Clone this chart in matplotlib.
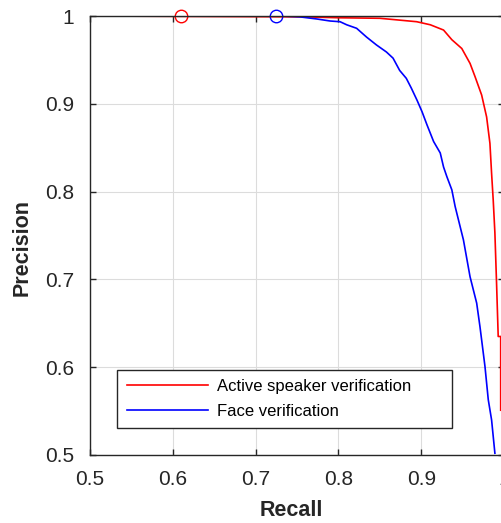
import matplotlib
matplotlib.use("Agg")
import matplotlib.pyplot as plt

# ---- data ----
asv_recall = [0.50, 0.76, 0.80, 0.85, 0.8945, 0.911, 0.927, 0.937, 0.949, 0.959,
              0.965, 0.973, 0.979, 0.983, 0.985, 0.987, 0.989, 0.991, 0.993, 0.996, 0.996]
asv_precision = [1.0, 0.999, 0.998, 0.9974, 0.9935, 0.990, 0.984, 0.973, 0.963, 0.946,
                 0.931, 0.910, 0.885, 0.855, 0.821, 0.790, 0.753, 0.696, 0.635, 0.635, 0.551]

face_recall = [0.50, 0.73, 0.7536, 0.774, 0.790, 0.802, 0.810, 0.822, 0.834, 0.846,
               0.858, 0.866, 0.874, 0.882, 0.888, 0.895, 0.901, 0.907, 0.915, 0.923,
               0.927, 0.931, 0.937, 0.941, 0.951, 0.959, 0.967, 0.971, 0.977, 0.981,
               0.985, 0.989]
face_precision = [1.0, 1.0, 0.999, 0.9966, 0.9943, 0.9935, 0.990, 0.986, 0.976, 0.967,
                  0.959, 0.952, 0.938, 0.929, 0.918, 0.904, 0.891, 0.876, 0.857, 0.844,
                  0.828, 0.817, 0.802, 0.783, 0.745, 0.703, 0.673, 0.646, 0.601, 0.563,
                  0.540, 0.502]

asv_marker = (0.61, 1.0)
face_marker = (0.725, 1.0)

series_labels = ["Active speaker verification", "Face verification"]
xticks = [0.5, 0.6, 0.7, 0.8, 0.9, 1.0]
xtick_labels = ["0.5", "0.6", "0.7", "0.8", "0.9", "1"]
yticks = [0.5, 0.6, 0.7, 0.8, 0.9, 1.0]
ytick_labels = ["0.5", "0.6", "0.7", "0.8", "0.9", "1"]

plt.rcParams['font.family'] = ['Liberation Sans', 'DejaVu Sans']

W, H = 502, 523
fig = plt.figure(figsize=(W / 100, H / 100), dpi=100)
ax = fig.add_axes([90 / W, 1 - 455 / H, 414 / W, 439 / H])

spine_col = '#262626'
ax.plot(asv_recall, asv_precision, color='#ff0000', lw=1.2, label=series_labels[0])
ax.plot(face_recall, face_precision, color='#0000ff', lw=1.2, label=series_labels[1])
ax.plot([asv_marker[0]], [asv_marker[1]], 'o', mfc='none', mec='#ff0000', ms=9, mew=1.0, clip_on=False)
ax.plot([face_marker[0]], [face_marker[1]], 'o', mfc='none', mec='#0000ff', ms=9, mew=1.0, clip_on=False)

ax.set_xlim(0.5, 1.0)
ax.set_ylim(0.5, 1.0)
ax.set_xticks(xticks)
ax.set_xticklabels(xtick_labels)
ax.set_yticks(yticks)
ax.set_yticklabels(ytick_labels)
ax.grid(True, color='#dcdcdc', lw=0.8)
ax.set_axisbelow(True)
for s in ax.spines.values():
    s.set_color(spine_col)
    s.set_linewidth(1.0)
ax.tick_params(direction='in', length=4, width=1.0, color=spine_col, labelsize=15,
               labelcolor='#262626', top=True, right=True)
ax.tick_params(axis='x', pad=10.5)
ax.tick_params(axis='y', pad=11.5)

ax.set_xlabel('Recall', fontsize=15.5, fontweight='bold', color='#262626')
ax.set_ylabel('Precision', fontsize=15.5, fontweight='bold', color='#262626')
ax.xaxis.set_label_coords((291 - 90) / 414, (455 - 510) / 439)
ax.yaxis.set_label_coords((22 - 90) / 414, (455 - 247) / 439)
ax.xaxis.label.set_va('center')
ax.yaxis.label.set_va('center')

x0 = (117 - 90) / 414
x1 = (452 - 90) / 414
y0 = (455 - 428) / 439
y1 = (455 - 370) / 439
leg = ax.legend(loc='lower left', bbox_to_anchor=(x0, y0, x1 - x0, y1 - y0), mode='expand',
                fontsize=12, handlelength=4.9, handletextpad=0.54, borderaxespad=0,
                borderpad=0.57, labelspacing=0.56, fancybox=False, framealpha=1,
                edgecolor=spine_col)
leg.get_frame().set_linewidth(1.0)

fig.savefig('out.png', dpi=100)
